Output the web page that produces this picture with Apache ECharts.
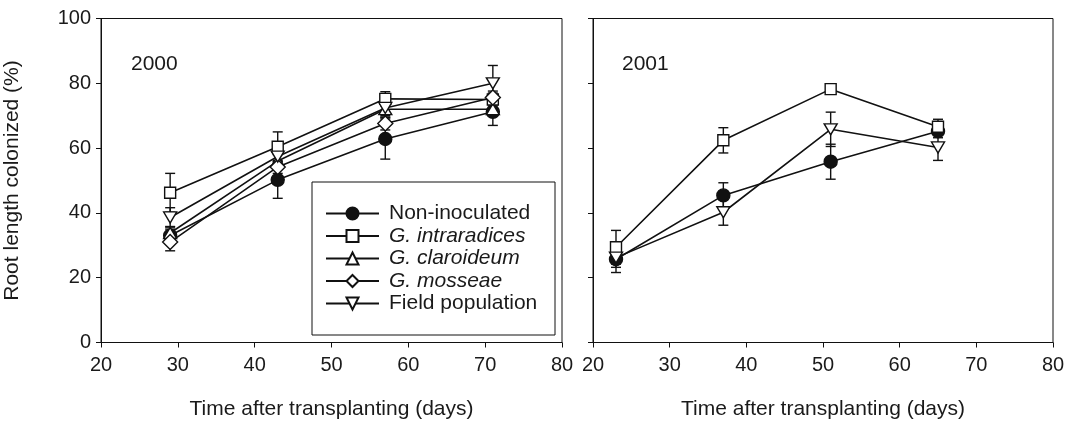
<!DOCTYPE html>
<html>
<head>
<meta charset="utf-8">
<script src="https://cdn.jsdelivr.net/npm/echarts@6/dist/echarts.min.js"></script>
<style>
  html, body { margin: 0; padding: 0; background: #fff; }
  #chart { width: 1072px; height: 427px; }
</style>
</head>
<body>
<div id="chart"></div>
<script>
// Sampling days for each season
const days2000 = [29, 43, 57, 71];
const days2001 = [23, 37, 51, 65];

// Axis ticks
const xTicks = [20, 30, 40, 50, 60, 70, 80];
const yTicks = [0, 20, 40, 60, 80, 100];

// Treatment names (legend order)
const treatments = ['Non-inoculated', 'G. intraradices', 'G. claroideum', 'G. mosseae', 'Field population'];

// 2000 season: mean root length colonized (%) and standard error
const nonInoc2000 = [33, 50.2, 62.8, 71.2];
const nonInoc2000Err = [2, 5.7, 6.2, 4.2];
const intra2000 = [46.2, 60.4, 75.2, 75.0];
const intra2000Err = [6, 4.6, 2.2, 2];
const claro2000 = [33.8, 56, 72, 72];
const claro2000Err = [2, 2, 2, 2];
const mosseae2000 = [31, 54.2, 67.6, 75.6];
const mosseae2000Err = [2.7, 2, 2, 2];
const field2000 = [38.6, 57.4, 72.4, 80];
const field2000Err = [3, 2, 3, 5.5];

// 2001 season
const nonInoc2001 = [25.7, 45.4, 55.8, 65.2];
const nonInoc2001Err = [4.1, 3.9, 5.4, 2];
const intra2001 = [29.4, 62.4, 78.2, 66.6];
const intra2001Err = [5.2, 3.9, 1.5, 2.3];
const field2001 = [26.2, 40.2, 65.8, 60.2];
const field2001Err = [3, 4, 5.3, 4];

const ink = '#111';
const textColor = '#1a1a1a';
const font = 'Liberation Sans, Arial, sans-serif';

const markerStyles = {
  'Non-inoculated':  { symbol: 'circle',   size: 13, fill: ink,    rotate: 0 },
  'G. intraradices': { symbol: 'rect',     size: 11, fill: '#fff', rotate: 0 },
  'G. claroideum':   { symbol: 'triangle', size: [13, 11], fill: '#fff', rotate: 0 },
  'G. mosseae':      { symbol: 'diamond',  size: [15, 15], fill: '#fff', rotate: 0 },
  'Field population':{ symbol: 'triangle', size: [13, 11], fill: '#fff', rotate: 180 }
};

function pairs(days, vals) {
  return days.map((d, i) => [d, vals[i]]);
}
function ranges(days, vals, errs) {
  return days.map((d, i) => [d, vals[i] - errs[i], vals[i] + errs[i]]);
}

function lineSeries(name, days, vals, panel) {
  const m = markerStyles[name];
  return {
    type: 'line',
    name: name,
    xAxisIndex: panel, yAxisIndex: panel,
    data: pairs(days, vals),
    symbol: m.symbol,
    symbolSize: m.size,
    symbolRotate: m.rotate,
    showAllSymbol: true,
    lineStyle: { color: ink, width: 1.6 },
    itemStyle: { color: m.fill, borderColor: ink, borderWidth: 1.4 },
    emphasis: { disabled: true },
    z: 3
  };
}

function renderErrorBar(params, api) {
  const x = api.value(0);
  const lo = api.coord([x, api.value(1)]);
  const hi = api.coord([x, api.value(2)]);
  const cap = 5;
  const style = { stroke: ink, lineWidth: 1.4 };
  return {
    type: 'group',
    children: [
      { type: 'line', shape: { x1: lo[0], y1: lo[1], x2: hi[0], y2: hi[1] }, style: style },
      { type: 'line', shape: { x1: lo[0] - cap, y1: lo[1], x2: lo[0] + cap, y2: lo[1] }, style: style },
      { type: 'line', shape: { x1: hi[0] - cap, y1: hi[1], x2: hi[0] + cap, y2: hi[1] }, style: style }
    ]
  };
}

function errorSeries(id, days, vals, errs, panel) {
  return {
    type: 'custom',
    name: id,
    xAxisIndex: panel, yAxisIndex: panel,
    data: ranges(days, vals, errs),
    encode: { x: 0, y: [1, 2] },
    renderItem: renderErrorBar,
    silent: true,
    z: 2
  };
}

function xAxis(gridIndex) {
  return {
    type: 'value', gridIndex: gridIndex,
    min: xTicks[0], max: xTicks[xTicks.length - 1], interval: 10,
    name: 'Time after transplanting (days)',
    nameLocation: 'middle', nameGap: 56,
    nameTextStyle: { color: textColor, fontSize: 21, fontFamily: font },
    axisLine: { show: true, lineStyle: { color: ink, width: 1 } },
    axisTick: { show: true, length: 5, lineStyle: { color: ink } },
    axisLabel: { color: textColor, fontSize: 20, fontFamily: font, margin: 13 },
    splitLine: { show: false }
  };
}

function yAxis(gridIndex, withLabels) {
  return {
    type: 'value', gridIndex: gridIndex,
    min: yTicks[0], max: yTicks[yTicks.length - 1], interval: 20,
    name: withLabels ? 'Root length colonized (%)' : '',
    nameLocation: 'middle', nameGap: 78,
    nameTextStyle: { color: textColor, fontSize: 21, fontFamily: font },
    axisLine: { show: true, lineStyle: { color: ink, width: 1 } },
    axisTick: { show: true, length: 5, lineStyle: { color: ink } },
    axisLabel: { show: withLabels, color: textColor, fontSize: 20, fontFamily: font, margin: 10 },
    splitLine: { show: false }
  };
}

const chart = echarts.init(document.getElementById('chart'), null, { renderer: 'canvas' });

chart.setOption({
  backgroundColor: '#fff',
  animation: false,
  title: [
    { text: '2000', left: 126, top: 49, textStyle: { color: textColor, fontSize: 21, fontWeight: 'normal', fontFamily: font } },
    { text: '2001', left: 617, top: 49, textStyle: { color: textColor, fontSize: 21, fontWeight: 'normal', fontFamily: font } }
  ],
  grid: [
    { left: 101, top: 18.5, width: 461, height: 324, show: true, borderColor: ink, borderWidth: 1, backgroundColor: 'transparent' },
    { left: 593, top: 18.5, width: 460, height: 324, show: true, borderColor: ink, borderWidth: 1, backgroundColor: 'transparent' }
  ],
  xAxis: [xAxis(0), xAxis(1)],
  yAxis: [yAxis(0, true), yAxis(1, false)],
  graphic: [
    { type: 'rect', shape: { x: 312, y: 182, width: 243, height: 153 },
      style: { fill: '#fff', stroke: ink, lineWidth: 1 }, z: 5, silent: true }
  ],
  legend: {
    data: treatments,
    orient: 'vertical',
    left: 325, top: 203,
    itemWidth: 53, itemHeight: 15, itemGap: 1.5,
    padding: 0,
    z: 10,
    selectedMode: false,
    formatter: function (name) {
      return name.indexOf('G. ') === 0 ? '{i|' + name + '}' : name;
    },
    textStyle: {
      color: textColor, fontSize: 21, fontFamily: font, padding: [0, 0, 0, 5],
      rich: { i: { fontStyle: 'italic', fontSize: 21, fontFamily: font, color: textColor } }
    }
  },
  series: [
    errorSeries('err-ni-2000', days2000, nonInoc2000, nonInoc2000Err, 0),
    errorSeries('err-gi-2000', days2000, intra2000, intra2000Err, 0),
    errorSeries('err-gc-2000', days2000, claro2000, claro2000Err, 0),
    errorSeries('err-gm-2000', days2000, mosseae2000, mosseae2000Err, 0),
    errorSeries('err-fp-2000', days2000, field2000, field2000Err, 0),
    lineSeries('Non-inoculated', days2000, nonInoc2000, 0),
    lineSeries('G. intraradices', days2000, intra2000, 0),
    lineSeries('G. claroideum', days2000, claro2000, 0),
    lineSeries('G. mosseae', days2000, mosseae2000, 0),
    lineSeries('Field population', days2000, field2000, 0),
    errorSeries('err-ni-2001', days2001, nonInoc2001, nonInoc2001Err, 1),
    errorSeries('err-gi-2001', days2001, intra2001, intra2001Err, 1),
    errorSeries('err-fp-2001', days2001, field2001, field2001Err, 1),
    lineSeries('Non-inoculated', days2001, nonInoc2001, 1),
    lineSeries('G. intraradices', days2001, intra2001, 1),
    lineSeries('Field population', days2001, field2001, 1)
  ]
});
</script>
</body>
</html>
